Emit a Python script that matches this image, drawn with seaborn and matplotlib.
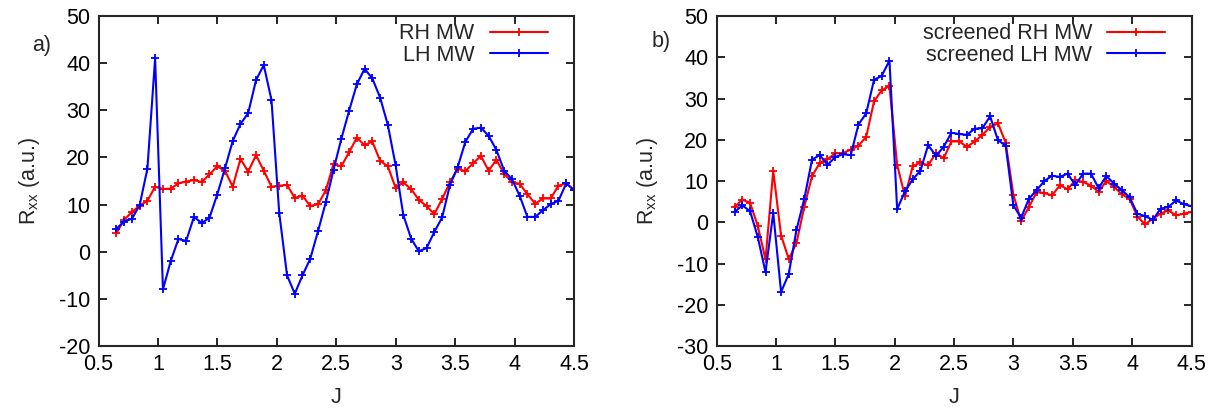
import numpy as np
import pandas as pd
import matplotlib
matplotlib.use("Agg")
import matplotlib.pyplot as plt
import seaborn as sns

# J grid shared by both panels
J = [0.650, 0.715, 0.781, 0.846, 0.911, 0.976, 1.042, 1.107, 1.172, 1.237,
     1.303, 1.368, 1.433, 1.498, 1.564, 1.629, 1.694, 1.759, 1.825, 1.890,
     1.955, 2.020, 2.086, 2.151, 2.216, 2.281, 2.347, 2.412, 2.477, 2.542,
     2.608, 2.673, 2.738, 2.803, 2.869, 2.934, 2.999, 3.064, 3.130, 3.195,
     3.260, 3.325, 3.391, 3.456, 3.521, 3.586, 3.652, 3.717, 3.782, 3.847,
     3.913, 3.978, 4.043, 4.108, 4.174, 4.239, 4.304, 4.369, 4.435, 4.500]

# panel a)
rh_mw = [3.9, 6.8, 8.4, 9.8, 10.8, 13.8, 13.3, 13.4, 14.5, 14.9,
         15.2, 14.8, 16.4, 18.1, 17.2, 13.8, 19.7, 17.0, 20.5, 17.2,
         13.8, 14.0, 14.2, 11.4, 11.9, 9.7, 10.1, 13.0, 18.6, 18.1,
         21.1, 24.2, 22.6, 23.4, 19.3, 18.1, 13.6, 14.7, 13.3, 11.0,
         9.7, 8.0, 11.2, 14.7, 17.6, 17.1, 18.8, 20.3, 17.2, 19.5,
         16.5, 14.8, 14.4, 12.2, 10.2, 11.3, 11.3, 14.0, 14.5, 13.1]
lh_mw = [4.9, 6.4, 7.0, 9.9, 17.6, 41.0, -8.0, -2.0, 2.7, 2.3,
         7.4, 6.1, 7.2, 12.1, 17.7, 23.5, 27.1, 29.4, 36.4, 39.6,
         32.2, 8.3, -5.0, -8.9, -5.0, -1.5, 4.4, 10.5, 17.4, 23.9,
         29.9, 35.5, 38.8, 36.8, 32.7, 26.9, 18.4, 7.8, 2.8, 0.1,
         0.8, 4.2, 7.3, 14.1, 17.9, 23.3, 26.1, 26.3, 24.6, 21.6,
         17.2, 15.4, 11.9, 7.4, 7.4, 8.8, 10.1, 10.8, 14.5, 13.1]

# panel b)
scr_rh_mw = [3.7, 5.5, 4.7, -0.9, -9.0, 12.5, -3.2, -8.9, -5.0, 3.7,
             11.2, 14.4, 15.3, 16.7, 16.8, 17.6, 18.6, 20.7, 29.3, 32.0,
             33.0, 13.9, 6.3, 13.6, 14.5, 13.8, 16.8, 15.5, 19.6, 19.6,
             18.3, 19.6, 21.2, 23.1, 24.0, 19.3, 6.7, 0.3, 3.7, 7.3,
             7.1, 6.5, 9.0, 8.0, 10.2, 9.8, 8.9, 7.4, 10.0, 8.6,
             6.8, 5.7, 1.4, -0.5, 0.9, 2.1, 2.9, 1.7, 2.1, 2.5]
scr_lh_mw = [2.5, 4.1, 2.7, -3.6, -12.1, 2.3, -16.9, -12.5, -1.8, 5.6,
             15.2, 16.3, 13.9, 15.8, 16.5, 16.3, 23.7, 26.4, 34.5, 35.5,
             39.2, 3.2, 7.5, 10.4, 12.5, 18.7, 16.1, 18.3, 21.7, 21.4,
             21.2, 22.7, 22.8, 25.7, 19.9, 18.6, 4.1, 1.1, 5.7, 7.8,
             10.0, 11.3, 11.0, 11.8, 9.0, 11.8, 11.8, 8.3, 11.2, 9.4,
             7.8, 6.1, 2.1, 1.5, 0.6, 3.3, 3.7, 5.3, 4.4, 3.9]

xticks = [0.5, 1, 1.5, 2, 2.5, 3, 3.5, 4, 4.5]
xticklabels = ["0.5", "1", "1.5", "2", "2.5", "3", "3.5", "4", "4.5"]

FS = 15.5

sns.set_style("ticks")
plt.rcParams["font.family"] = ["Liberation Sans", "DejaVu Sans"]
plt.rcParams["mathtext.default"] = "regular"
plt.rcParams["font.size"] = FS

fig = plt.figure(figsize=(12.15, 4.11), dpi=100)
ax1 = fig.add_axes([0.0811, 0.158, 0.3913, 0.803])
ax2 = fig.add_axes([0.5899, 0.158, 0.3908, 0.803])


def draw(ax, y_red, y_blue, lab_red, lab_blue, ylim, yticks, tag, tag_xy):
    sns.lineplot(x=J, y=y_red, ax=ax, color="#ff0000", marker="+", markersize=6,
                 markeredgecolor="#ff0000", markeredgewidth=1.3, linewidth=1.5,
                 label=lab_red, sort=False)
    sns.lineplot(x=J, y=y_blue, ax=ax, color="#0000ff", marker="+", markersize=6,
                 markeredgecolor="#0000ff", markeredgewidth=1.3, linewidth=1.5,
                 label=lab_blue, sort=False)
    ax.set_xlim(0.5, 4.5)
    ax.set_ylim(*ylim)
    ax.set_xticks(xticks)
    ax.set_xticklabels(xticklabels)
    ax.set_yticks(yticks)
    ax.set_yticklabels([str(t) for t in yticks])
    ax.tick_params(direction="in", length=6, width=1.2, top=True, right=True,
                   labelsize=FS, pad=6, colors="black")
    for s in ax.spines.values():
        s.set_linewidth(1.5)
        s.set_visible(True)
    ax.set_xlabel("J", fontsize=FS, labelpad=8)
    ax.set_ylabel("R$_{xx}$ (a.u.)", fontsize=FS, labelpad=12)
    leg = ax.legend(loc="upper right", bbox_to_anchor=(0.945, 0.978),
                    frameon=False, markerfirst=False, handlelength=2.7,
                    handletextpad=0.7, labelspacing=0.02, borderpad=0,
                    borderaxespad=0, fontsize=FS, numpoints=1)
    for t in leg.get_texts():
        t.set_ha("right")
    fig.text(tag_xy[0], tag_xy[1], tag, fontsize=FS, ha="center", va="center")


draw(ax1, rh_mw, lh_mw, "RH MW", "LH MW", (-20, 50),
     [-20, -10, 0, 10, 20, 30, 40, 50], "a)", (0.034, 0.89))
draw(ax2, scr_rh_mw, scr_lh_mw, "screened RH MW", "screened LH MW", (-30, 50),
     [-30, -20, -10, 0, 10, 20, 30, 40, 50], "b)", (0.544, 0.898))

fig.savefig("out.png", dpi=100)
